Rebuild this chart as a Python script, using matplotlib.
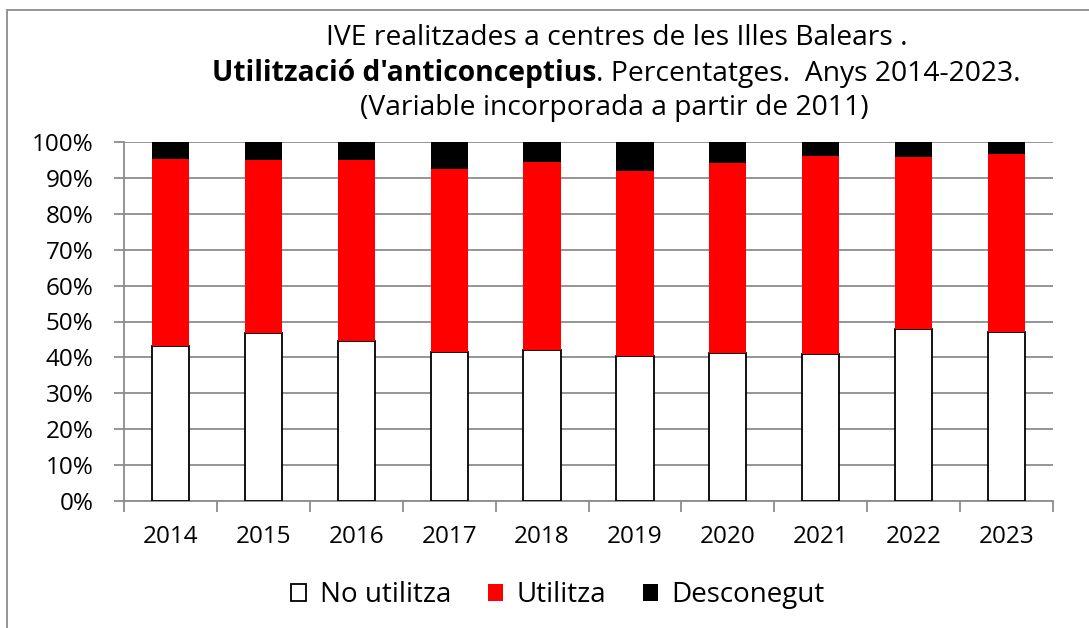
import matplotlib
matplotlib.use("Agg")
import matplotlib.pyplot as plt
from matplotlib.patches import Rectangle
import numpy as np

years = ["2014", "2015", "2016", "2017", "2018", "2019", "2020", "2021", "2022", "2023"]
no_utilitza = [43.3, 46.9, 44.7, 41.5, 42.1, 40.5, 41.1, 40.9, 47.8, 47.2]
utilitza = [51.9, 48.2, 50.4, 51.0, 52.2, 51.5, 53.1, 55.2, 48.1, 49.5]
desconegut = [4.8, 4.9, 4.9, 7.5, 5.7, 8.0, 5.8, 3.9, 4.1, 3.3]
yticklabels = ["0%", "10%", "20%", "30%", "40%", "50%", "60%", "70%", "80%", "90%", "100%"]

plt.rcParams['font.family'] = ['Open Sans', 'DejaVu Sans']

W, H = 1089, 628
fig = plt.figure(figsize=(W / 100, H / 100), dpi=100)
ax = fig.add_axes([124 / W, 1 - 501 / H, (1053 - 124) / W, (501 - 142) / H])

x = np.arange(len(years))
bw = 0.4
nu = np.array(no_utilitza)
ut = np.array(utilitza)
de = np.array(desconegut)
ax.bar(x, nu, bw, color='white', edgecolor='black', linewidth=1.3, label='No utilitza', zorder=3)
ax.bar(x, ut, bw, bottom=nu, color='#ff0000', edgecolor='none', label='Utilitza', zorder=3)
ax.bar(x, de, bw, bottom=nu + ut, color='black', edgecolor='none', label='Desconegut', zorder=3)

tfs = 17.5
ax.set_xlim(-0.5, len(years) - 0.5)
ax.set_ylim(0, 100)
ax.set_yticks(np.arange(0, 101, 10))
ax.set_yticklabels(yticklabels, fontsize=tfs)
ax.yaxis.grid(True, color='#8c8c8c', linewidth=1.3, zorder=0)
ax.set_xticks(x)
ax.set_xticklabels(years, fontsize=tfs)
ax.tick_params(axis='x', length=0, pad=17)
ax.set_xticks(np.arange(-0.5, len(years) + 0.5, 1), minor=True)
ax.tick_params(axis='x', which='minor', length=8, color='#8c8c8c', width=1.3)
ax.tick_params(axis='y', length=7, color='#8c8c8c', width=1.3, pad=15)
for s in ['top', 'right']:
    ax.spines[s].set_visible(False)
ax.spines['left'].set_color('#8c8c8c')
ax.spines['left'].set_linewidth(1.3)
ax.spines['bottom'].set_color('#8c8c8c')
ax.spines['bottom'].set_linewidth(1.3)

# Title
fs = 20.3
fig.text(617 / W, 1 - 38 / H, "IVE realitzades a centres de les Illes Balears .", ha='center', va='center', fontsize=fs)
split = 596 / W
fig.text(split, 1 - 74 / H, "Utilització d'anticonceptius", ha='right', va='center', fontsize=fs, fontweight='bold')
fig.text(split, 1 - 74 / H, ". Percentatges.  Anys 2014-2023.", ha='left', va='center', fontsize=fs)
fig.text(614.5 / W, 1 - 108 / H, "(Variable incorporada a partir de 2011)", ha='center', va='center', fontsize=fs)

# Legend
handles, labels = ax.get_legend_handles_labels()
leg = fig.legend(handles, labels, loc='center', bbox_to_anchor=(558 / W, 1 - 595 / H), ncol=3, frameon=False,
                 fontsize=20, handlelength=0.55, handleheight=0.55, handletextpad=0.5, columnspacing=1.3)

# Border
fig.patches.append(Rectangle((7 / W, 0 - 0.01), 1.0, 1 - 10 / H + 0.01, transform=fig.transFigure,
                             fill=False, edgecolor='#8c8c8c', linewidth=1.3))

fig.savefig("out.png", dpi=100)
